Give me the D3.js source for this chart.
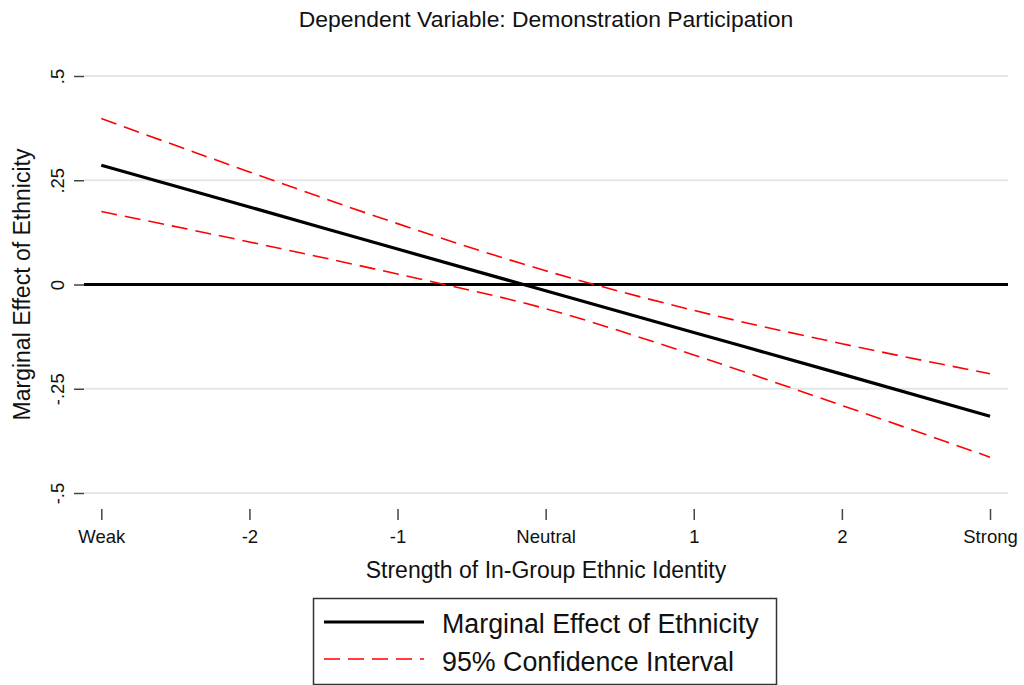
<!DOCTYPE html>
<html><head><meta charset="utf-8">
<script src="https://cdn.jsdelivr.net/npm/d3@7"></script>
<style>
html,body{margin:0;padding:0;background:#fff;}
svg{display:block;font-family:"Liberation Sans",Arial,Helvetica,sans-serif;}
</style></head>
<body>
<svg id="chart" width="1024" height="685"></svg>
<script>
const xValues = [-3, -2, -1, 0, 1, 2, 3];
const xTickLabels = ["Weak", "-2", "-1", "Neutral", "1", "2", "Strong"];
const marginalEffect = [0.286, 0.186, 0.085, -0.015, -0.115, -0.215, -0.316];
const upperCI = [0.398, 0.270, 0.146, 0.033, -0.062, -0.142, -0.214];
const lowerCI = [0.175, 0.102, 0.025, -0.058, -0.169, -0.290, -0.414];
const yTicks = [-0.5, -0.25, 0, 0.25, 0.5];
const yTickLabels = ["-.5", "-.25", "0", ".25", ".5"];
const titleText = "Dependent Variable: Demonstration Participation";
const xTitle = "Strength of In-Group Ethnic Identity";
const yTitle = "Marginal Effect of Ethnicity";
const legendLabels = ["Marginal Effect of Ethnicity", "95% Confidence Interval"];

const svg = d3.select("#chart");
const x = d3.scaleLinear().domain([-3, 3]).range([101.3, 990]);
const y = d3.scaleLinear().domain([-0.5, 0.5]).range([493, 76]);
const plotLeft = 84, plotRight = 1008;

// gridlines
svg.append("g").selectAll("line").data(yTicks.filter(d => d !== 0)).join("line")
  .attr("x1", plotLeft).attr("x2", plotRight)
  .attr("y1", d => y(d)).attr("y2", d => y(d))
  .attr("stroke", "#e6e6e6").attr("stroke-width", 2);

// y axis
const yAxis = d3.axisLeft(y).tickValues(yTicks)
  .tickFormat((d, i) => yTickLabels[i]).tickSize(10).tickPadding(0);
const gy = svg.append("g").attr("transform", `translate(${plotLeft},0)`).call(yAxis);
gy.select(".domain").remove();
gy.selectAll(".tick line").attr("stroke", "#444").attr("stroke-width", 1.5);
gy.selectAll(".tick text")
  .attr("transform", "rotate(-90)")
  .attr("x", 0).attr("y", -20)
  .attr("dy", 0)
  .attr("text-anchor", "middle")
  .attr("font-size", 18.5).attr("fill", "#111")
  .attr("font-family", "Liberation Sans, Arial, sans-serif");

// x axis
const xAxis = d3.axisBottom(x).tickValues(xValues)
  .tickFormat((d, i) => xTickLabels[i]).tickSize(11).tickPadding(0);
const gx = svg.append("g").attr("transform", `translate(0,509)`).call(xAxis);
gx.select(".domain").remove();
gx.selectAll(".tick line").attr("stroke", "#444").attr("stroke-width", 1.5);
gx.selectAll(".tick text").attr("y", 34).attr("dy", 0)
  .attr("font-size", 18.5).attr("fill", "#111")
  .attr("font-family", "Liberation Sans, Arial, sans-serif");

// zero line
svg.append("line").attr("x1", plotLeft).attr("x2", plotRight)
  .attr("y1", y(0)).attr("y2", y(0))
  .attr("stroke", "#000").attr("stroke-width", 3);

const pts = arr => xValues.map((v, i) => [v, arr[i]]);
const lineGen = d3.line().x(d => x(d[0])).y(d => y(d[1])).curve(d3.curveMonotoneX);

svg.append("path").attr("d", lineGen(pts(upperCI)))
  .attr("fill", "none").attr("stroke", "#ff0000").attr("stroke-width", 1.6)
  .attr("stroke-dasharray", "16,8");
svg.append("path").attr("d", lineGen(pts(lowerCI)))
  .attr("fill", "none").attr("stroke", "#ff0000").attr("stroke-width", 1.6)
  .attr("stroke-dasharray", "16,8");
svg.append("path").attr("d", lineGen(pts(marginalEffect)))
  .attr("fill", "none").attr("stroke", "#000").attr("stroke-width", 3.2);

// titles
svg.append("text").attr("x", 546).attr("y", 26.5).attr("text-anchor", "middle")
  .attr("font-size", 22.9).attr("fill", "#111").text(titleText);
svg.append("text").attr("x", 546).attr("y", 577.5).attr("text-anchor", "middle")
  .attr("font-size", 23).attr("fill", "#111").text(xTitle);
svg.append("text").attr("transform", `translate(30,${y(0)}) rotate(-90)`)
  .attr("text-anchor", "middle").attr("font-size", 23).attr("fill", "#111").text(yTitle);

// legend
const lg = svg.append("g");
lg.append("rect").attr("x", 313.5).attr("y", 598.5).attr("width", 463).attr("height", 86)
  .attr("fill", "#fff").attr("stroke", "#333").attr("stroke-width", 1.5);
lg.append("line").attr("x1", 324).attr("x2", 424).attr("y1", 622).attr("y2", 622)
  .attr("stroke", "#000").attr("stroke-width", 3);
lg.append("line").attr("x1", 324).attr("x2", 424).attr("y1", 659).attr("y2", 659)
  .attr("stroke", "#ff0000").attr("stroke-width", 1.6).attr("stroke-dasharray", "16,8");
lg.append("text").attr("x", 442).attr("y", 633).attr("font-size", 26.8).attr("fill", "#111").text(legendLabels[0]);
lg.append("text").attr("x", 442).attr("y", 671).attr("font-size", 26.8).attr("fill", "#111").text(legendLabels[1]);
</script>
</body></html>
